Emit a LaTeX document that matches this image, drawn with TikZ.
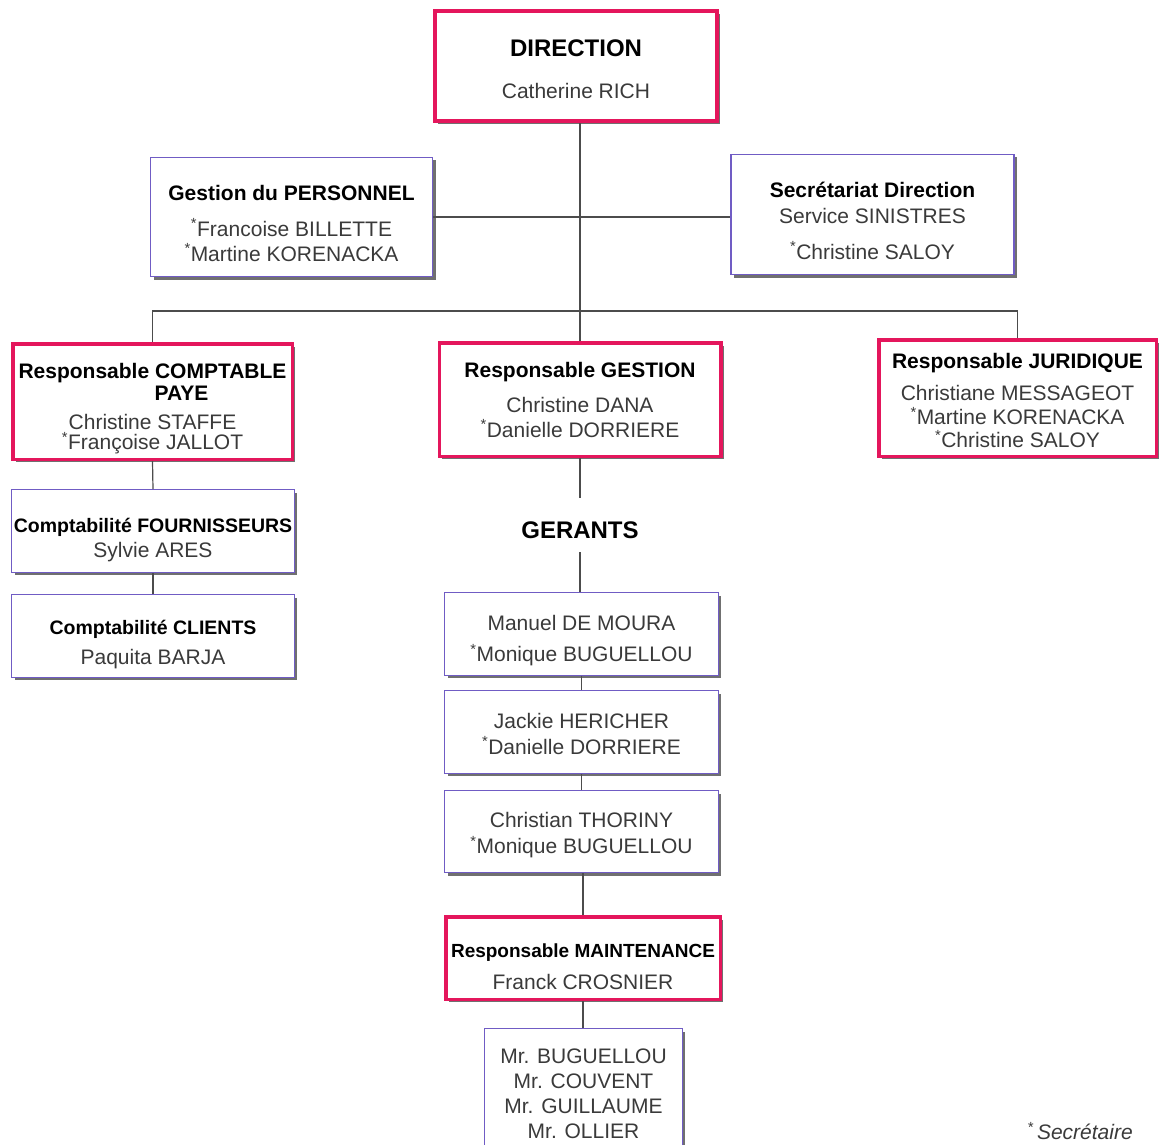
\documentclass[tikz,border=0pt]{standalone}
\usepackage{fontspec}
\setmainfont{Liberation Sans}
\usetikzlibrary{shadows}
\definecolor{rougeorg}{RGB}{228,22,92}
\definecolor{bleuorg}{RGB}{112,92,196}
\definecolor{texte}{RGB}{58,58,58}
\newcommand{\titre}[1]{{\bfseries\color{black}#1}}
\newcommand{\secr}{\textsuperscript{*}}
\newcommand{\haut}[1]{\rule{0pt}{#1}}

\begin{document}
\begin{tikzpicture}[x=1pt, y=-1pt,
      boite/.style={fill=white, align=center, inner sep=0pt, text=texte,
                    font=\fontsize{21}{24}\selectfont,
                    drop shadow={shadow xshift=3pt, shadow yshift=-3pt, fill=black!80, opacity=.7}},
      rouge/.style={boite, draw=rougeorg, line width=3.5pt},
      bleu/.style={boite, draw=bleuorg, line width=1.3pt},
      lien/.style={draw=black!70, line width=1.2pt},
      grand/.style={font=\fontsize{24}{24}\selectfont\bfseries}
    ]
    \useasboundingbox (0,0) rectangle (1160,1145);

    % Direction et services rattachés
    \node[rouge, minimum width=282pt, minimum height=110pt] (dir) at (576,66)
      {\haut{24pt}\titre{\fontsize{24}{24}\selectfont DIRECTION}\\[18pt]Catherine RICH};
    \node[bleu, minimum width=282pt, minimum height=119pt] (pers) at (291.5,217)
      {\haut{28pt}\titre{Gestion du PERSONNEL}\\[12pt]\secr Francoise BILLETTE\\[1pt]\secr Martine KORENACKA};
    \node[bleu, minimum width=283pt, minimum height=120pt] (secret) at (872.5,214.5)
      {\haut{27.5pt}\titre{Secrétariat Direction}\\[2pt]Service SINISTRES\\[12pt]\secr Christine SALOY};

    % Responsables
    \node[rouge, minimum width=279.5pt, minimum height=115.5pt] (compta) at (152.5,401.5)
      {\haut{30pt}\titre{Responsable COMPTABLE}\\[-2pt]\hspace*{58pt}\titre{PAYE}\\[5pt]Christine STAFFE\\[-4pt]\secr Françoise JALLOT};
    \node[rouge, minimum width=281.5pt, minimum height=113.5pt] (gest) at (580,399.5)
      {\titre{Responsable GESTION}\\[11pt]Christine DANA\\[1pt]\secr Danielle DORRIERE};
    \node[rouge, minimum width=277.5pt, minimum height=116.5pt] (jur) at (1017.5,398)
      {\haut{21pt}\titre{Responsable JURIDIQUE}\\[8pt]Christiane MESSAGEOT\\[0pt]\secr Martine KORENACKA\\[-1pt]\secr Christine SALOY};

    % Comptabilité
    \node[bleu, minimum width=282.5pt, minimum height=82.5pt] (fourn) at (153,531)
      {\haut{32pt}\titre{\fontsize{19.5}{24}\selectfont Comptabilité FOURNISSEURS}\\[1pt]Sylvie ARES};
    \node[bleu, minimum width=282.5pt, minimum height=82.5pt] (clients) at (153,636)
      {\haut{32pt}\titre{\fontsize{19.5}{24}\selectfont Comptabilité CLIENTS}\\[6pt]Paquita BARJA};

    % Gérants
    \node[grand, inner sep=0pt, minimum height=54pt] (gerants) at (580,525) {\haut{27pt}GERANTS};
    \node[bleu, minimum width=273.5pt, minimum height=82.5pt] (ger1) at (581.5,634)
      {\haut{29pt}Manuel DE MOURA\\[7pt]\secr Monique BUGUELLOU};
    \node[bleu, minimum width=273.5pt, minimum height=82.5pt] (ger2) at (581.5,732)
      {\haut{19pt}Jackie HERICHER\\[2pt]\secr Danielle DORRIERE};
    \node[bleu, minimum width=273.5pt, minimum height=82pt] (ger3) at (581.5,831.5)
      {\haut{23pt}Christian THORINY\\[2pt]\secr Monique BUGUELLOU};

    % Maintenance
    \node[rouge, minimum width=274.5pt, minimum height=82.5pt] (maint) at (583,958)
      {\haut{32pt}\titre{\fontsize{19}{24}\selectfont Responsable MAINTENANCE}\\[8pt]Franck CROSNIER};
    \node[bleu, minimum width=197.5pt, minimum height=130.5pt] (equipe) at (583.5,1094)
      {Mr. BUGUELLOU\\[1pt]Mr. COUVENT\\[1pt]Mr. GUILLAUME\\[1pt]Mr. OLLIER};

    \node[font=\fontsize{21}{24}\selectfont\itshape, text=texte] (note) at (1080,1131) {\secr\,Secrétaire};

    % Liaisons
    \coordinate (bus) at (580,311);
    \draw[lien] (gest.north) -- (gest.north |- dir.south);
    \draw[lien] (pers.east) -- (pers.east -| secret.west);
    \draw[lien] (compta.north) -- (compta.north |- bus) -- (jur.north |- bus) -- (jur.north);
    \draw[lien] (gest.south) -- (gerants.north);
    \draw[lien] (gerants.south) -- (gerants.south |- ger1.north);
    \draw[lien] (ger1.south) -- (ger2.north);
    \draw[lien] (ger2.south) -- (ger3.north);
    \draw[lien] (maint.north) -- (maint.north |- ger3.south);
    \draw[lien] (maint.south) -- (maint.south |- equipe.north);
    \draw[lien] (compta.south) -- (fourn.north);
    \draw[lien] (fourn.south) -- (clients.north);
  \end{tikzpicture}
\end{document}
